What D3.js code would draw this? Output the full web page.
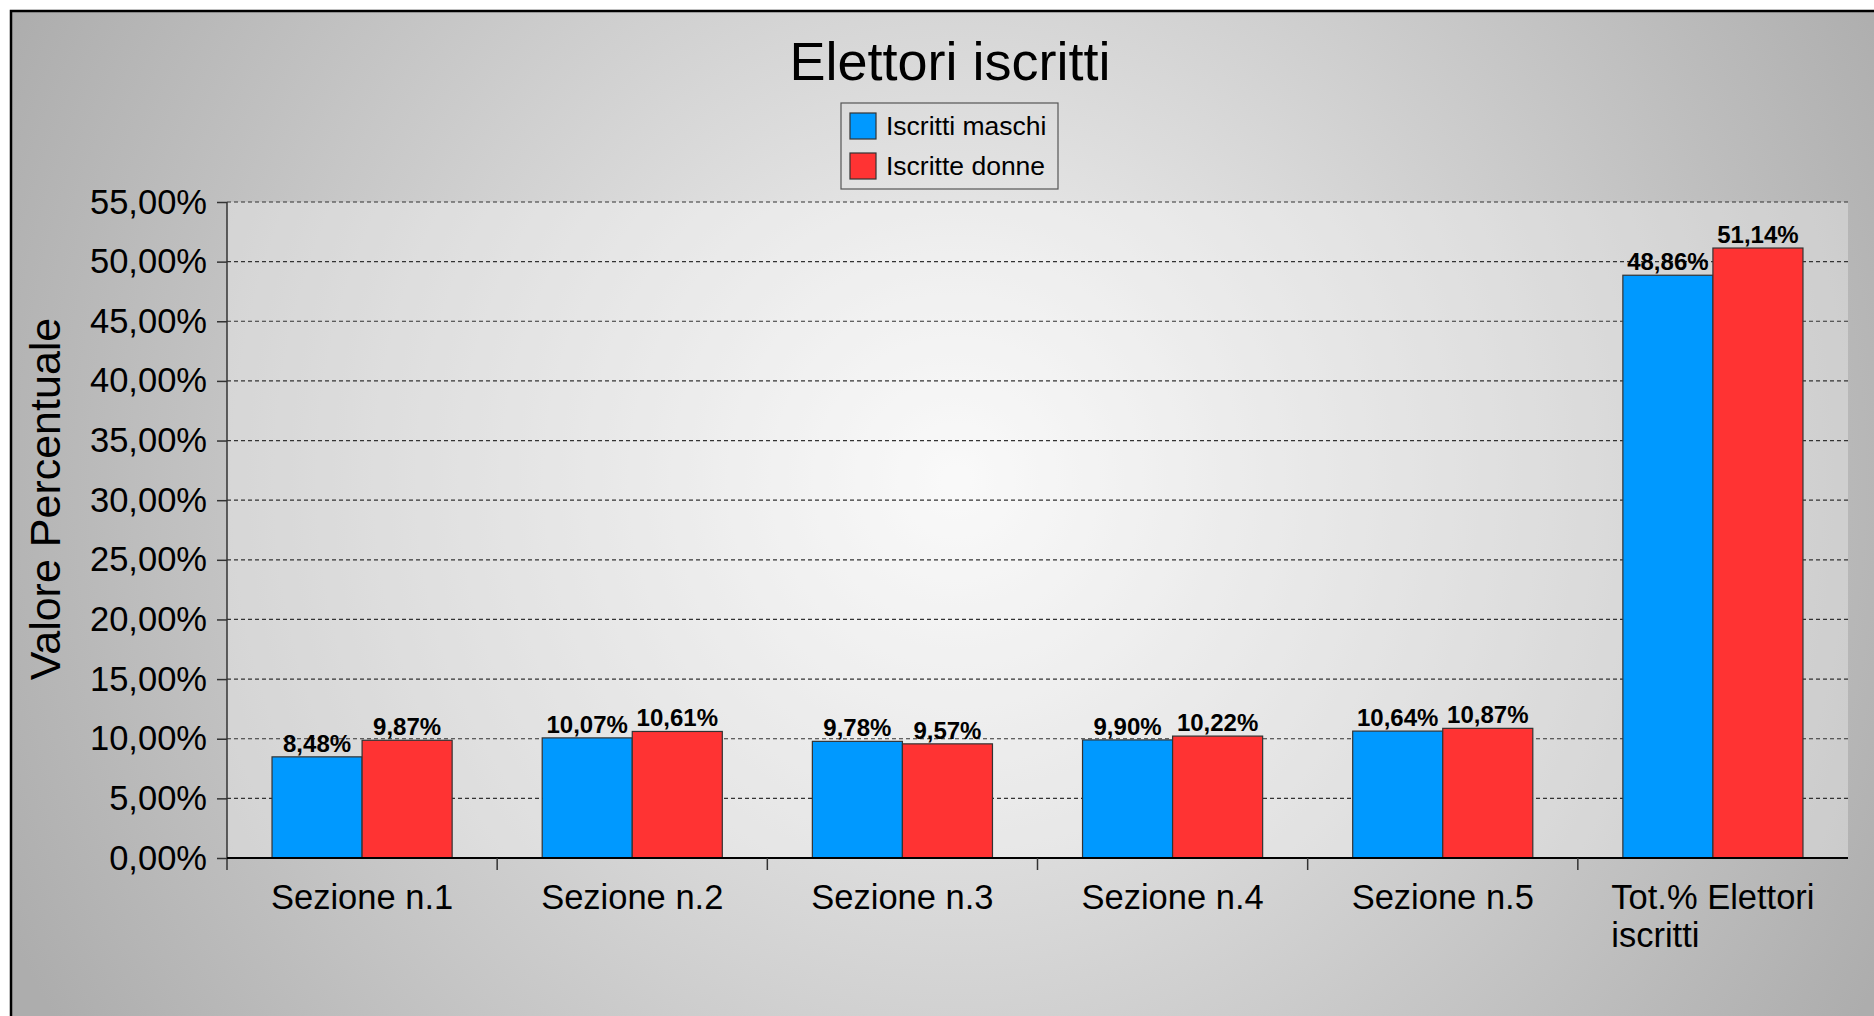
<!DOCTYPE html>
<html>
<head>
<meta charset="utf-8">
<script src="https://cdn.jsdelivr.net/npm/d3@7"></script>
<style>
  html, body { margin: 0; padding: 0; overflow: hidden; background: #fff; }
  text { font-family: "Liberation Sans", Arial, sans-serif; fill: #000; }
</style>
</head>
<body>
<svg id="chart" width="1874" height="1016"></svg>
<script>
const categories = ["Sezione n.1", "Sezione n.2", "Sezione n.3", "Sezione n.4", "Sezione n.5", "Tot.% Elettori iscritti"];
const seriesNames = ["Iscritti maschi", "Iscritte donne"];
const maschi = [8.48, 10.07, 9.78, 9.90, 10.64, 48.86];
const donne = [9.87, 10.61, 9.57, 10.22, 10.87, 51.14];
const yTicks = [0, 5, 10, 15, 20, 25, 30, 35, 40, 45, 50, 55];
const colors = ["#0099ff", "#ff3333"];

const fmt = (v) => v.toFixed(2).replace(".", ",") + "%";

const svg = d3.select("#chart");
const plotLeft = 227, plotRight = 1848, plotTop = 202, plotBottom = 858;

// background
const defs = svg.append("defs");
const bg = defs.append("radialGradient").attr("id", "bg")
  .attr("gradientUnits", "userSpaceOnUse")
  .attr("cx", 956).attr("cy", 480).attr("r", 1050);
bg.append("stop").attr("offset", 0).attr("stop-color", "#f7f7f7");
bg.append("stop").attr("offset", 1).attr("stop-color", "#adadad");

svg.append("rect").attr("x", 11).attr("y", 11).attr("width", 1900).attr("height", 1100)
  .attr("fill", "url(#bg)").attr("stroke", "#000").attr("stroke-width", 2.5);

svg.append("rect").attr("x", plotLeft).attr("y", plotTop)
  .attr("width", plotRight - plotLeft).attr("height", plotBottom - plotTop)
  .attr("fill", "#fff").attr("fill-opacity", 0.32);

const x0 = d3.scaleBand(categories, [plotLeft, plotRight]);
const x1 = d3.scaleBand([0, 1], [x0.bandwidth() / 6, x0.bandwidth() * 5 / 6]);
const y = d3.scaleLinear([0, 55], [plotBottom, plotTop]);

// grid
svg.append("g")
  .selectAll("line")
  .data(yTicks.filter((t) => t > 0))
  .join("line")
  .attr("x1", plotLeft).attr("x2", plotRight)
  .attr("y1", (t) => y(t)).attr("y2", (t) => y(t))
  .attr("stroke", "#333").attr("stroke-width", 1.2)
  .attr("stroke-dasharray", "4,3");

// y axis
const axisY = d3.axisLeft(y).tickValues(yTicks).tickSize(10).tickPadding(10).tickFormat(fmt);
const gy = svg.append("g").attr("transform", `translate(${plotLeft},0)`).call(axisY);
gy.select(".domain").remove();
gy.selectAll(".tick line").attr("stroke", "#333").attr("stroke-width", 1.5);
gy.selectAll(".tick text").attr("font-size", 34.5).attr("font-family", "Liberation Sans").attr("fill", "#000");
svg.append("line").attr("x1", plotLeft).attr("x2", plotLeft).attr("y1", plotTop).attr("y2", plotBottom + 12)
  .attr("stroke", "#333").attr("stroke-width", 1.5);

// bars
const groups = svg.append("g")
  .selectAll("g")
  .data(categories.map((c, i) => ({ c, vals: [maschi[i], donne[i]] })))
  .join("g")
  .attr("transform", (d) => `translate(${x0(d.c)},0)`);

groups.selectAll("rect")
  .data((d) => d.vals.map((v, s) => ({ v, s })))
  .join("rect")
  .attr("x", (d) => x1(d.s))
  .attr("width", x1.bandwidth())
  .attr("y", (d) => y(d.v))
  .attr("height", (d) => plotBottom - y(d.v))
  .attr("fill", (d) => colors[d.s])
  .attr("stroke", "#333").attr("stroke-width", 1.2);

groups.selectAll("text.val")
  .data((d) => d.vals.map((v, s) => ({ v, s })))
  .join("text")
  .attr("class", "val")
  .attr("x", (d) => x1(d.s) + x1.bandwidth() / 2)
  .attr("y", (d) => y(d.v) - 5)
  .attr("text-anchor", "middle")
  .attr("font-size", 24).attr("font-weight", "bold")
  .text((d) => fmt(d.v));

// x axis
svg.append("line").attr("x1", plotLeft).attr("x2", plotRight).attr("y1", plotBottom).attr("y2", plotBottom)
  .attr("stroke", "#000").attr("stroke-width", 2);
svg.append("g")
  .selectAll("line")
  .data(categories.slice(1))
  .join("line")
  .attr("x1", (c) => x0(c)).attr("x2", (c) => x0(c))
  .attr("y1", plotBottom).attr("y2", plotBottom + 12)
  .attr("stroke", "#333").attr("stroke-width", 1.5);

const xl = svg.append("g")
  .selectAll("text")
  .data(categories)
  .join("text")
  .attr("font-size", 34.5)
  .attr("y", 909);
xl.each(function (c) {
  const t = d3.select(this);
  const cx = x0(c) + x0.bandwidth() / 2;
  if (c.startsWith("Tot")) {
    const l1 = t.append("tspan").text("Tot.% Elettori");
    const w = l1.node().getComputedTextLength();
    l1.attr("x", cx - w / 2);
    t.append("tspan").attr("x", cx - w / 2).attr("dy", 38).text("iscritti");
  } else {
    t.attr("x", cx).attr("text-anchor", "middle").text(c);
  }
});

// axis title
svg.append("text")
  .attr("transform", "translate(60,499) rotate(-90)")
  .attr("text-anchor", "middle")
  .attr("font-size", 43)
  .text("Valore Percentuale");

// title
svg.append("text").attr("x", 950).attr("y", 80).attr("text-anchor", "middle")
  .attr("font-size", 54).text("Elettori iscritti");

// legend
const lg = svg.append("g").attr("transform", "translate(841,103)");
lg.append("rect").attr("width", 217).attr("height", 86)
  .attr("fill", "none").attr("stroke", "#555").attr("stroke-width", 1.2);
const li = lg.selectAll("g").data(seriesNames).join("g")
  .attr("transform", (d, i) => `translate(9,${10 + i * 40})`);
li.append("rect").attr("width", 26).attr("height", 26)
  .attr("fill", (d, i) => colors[i]).attr("stroke", "#333").attr("stroke-width", 1.2);
li.append("text").attr("x", 36).attr("y", 22).attr("font-size", 26.5).text((d) => d);
</script>
</body>
</html>
